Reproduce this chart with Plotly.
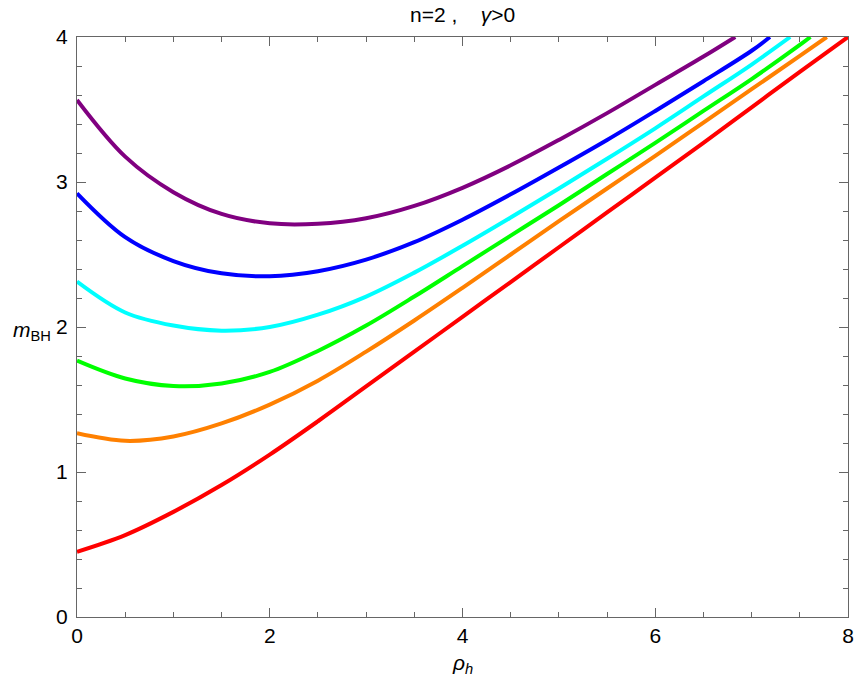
import plotly.graph_objects as go

# Data (rho_h, m_BH)
red_x = [0, 0.5, 1, 1.5, 2, 2.5, 3, 3.5, 4, 4.5, 5, 5.5, 6, 6.5, 7, 7.5, 8]
red_y = [0.45, 0.565, 0.725, 0.91, 1.12, 1.35, 1.59, 1.83, 2.07, 2.31, 2.55, 2.79, 3.03, 3.27, 3.515, 3.76, 4.0]

orange_x = [0, 0.5, 1, 1.5, 2, 2.5, 3, 3.5, 4, 4.5, 5, 5.5, 6, 6.5, 7, 7.5, 7.78]
orange_y = [1.267, 1.215, 1.245, 1.335, 1.465, 1.63, 1.83, 2.045, 2.27, 2.50, 2.73, 2.955, 3.18, 3.41, 3.64, 3.87, 4.0]

green_x = [0, 0.5, 1, 1.5, 2, 2.5, 3, 3.5, 4, 4.5, 5, 5.5, 6, 6.5, 7, 7.5, 7.61]
green_y = [1.768, 1.645, 1.593, 1.61, 1.69, 1.835, 2.01, 2.21, 2.42, 2.63, 2.84, 3.055, 3.27, 3.49, 3.71, 3.945, 4.0]

cyan_x = [0, 0.5, 1, 1.5, 2, 2.5, 3, 3.5, 4, 4.5, 5, 5.5, 6, 6.5, 7, 7.4]
cyan_y = [2.313, 2.10, 2.01, 1.975, 2.00, 2.085, 2.21, 2.375, 2.56, 2.755, 2.955, 3.16, 3.37, 3.59, 3.81, 4.0]

blue_x = [0, 0.5, 1, 1.5, 2, 2.5, 3, 3.5, 4, 4.5, 5, 5.5, 6, 6.5, 7, 7.19]
blue_y = [2.922, 2.62, 2.455, 2.37, 2.35, 2.385, 2.465, 2.585, 2.74, 2.915, 3.10, 3.29, 3.49, 3.695, 3.905, 4.0]

purple_x = [0, 0.5, 1, 1.5, 2, 2.5, 3, 3.5, 4, 4.5, 5, 5.5, 6, 6.5, 6.83]
purple_y = [3.566, 3.175, 2.93, 2.78, 2.715, 2.712, 2.75, 2.835, 2.96, 3.115, 3.29, 3.475, 3.67, 3.865, 4.0]

series = [
    (red_x, red_y, "#ff0000"),
    (orange_x, orange_y, "#ff8000"),
    (green_x, green_y, "#00ff00"),
    (cyan_x, cyan_y, "#00ffff"),
    (blue_x, blue_y, "#0000ff"),
    (purple_x, purple_y, "#800080"),
]

x_ticks = [0, 2, 4, 6, 8]
y_ticks = [0, 1, 2, 3, 4]

fig = go.Figure()
for xs, ys, c in series:
    fig.add_trace(go.Scatter(x=xs, y=ys, mode="lines",
                             line=dict(color=c, width=4, shape="spline", smoothing=1.0),
                             showlegend=False, hoverinfo="skip"))

font = dict(family="Liberation Sans, Arial, sans-serif", size=21, color="black")
axis_common = dict(showgrid=False, zeroline=False, showline=True, mirror="ticks",
                   linecolor="#666666", linewidth=1.2, ticks="inside", ticklen=9,
                   tickcolor="#666666", tickwidth=1.2, tickfont=font, automargin=False)

fig.update_layout(
    width=854, height=690,
    margin=dict(l=77, r=6, t=37, b=73),
    paper_bgcolor="white", plot_bgcolor="white",
    xaxis=dict(range=[0, 8], tickvals=x_ticks, ticktext=[str(v) for v in x_ticks],
               minor=dict(dtick=0.5, ticks="inside", ticklen=5, tickcolor="#666666", tickwidth=1.2),
               **axis_common),
    yaxis=dict(range=[0, 4], tickvals=y_ticks, ticktext=[str(v) for v in y_ticks],
               minor=dict(dtick=0.2, ticks="inside", ticklen=5, tickcolor="#666666", tickwidth=1.2),
               ticklabelstandoff=4, **axis_common),
    annotations=[
        dict(text="n=2 ,&nbsp;&nbsp;&nbsp;&nbsp;<i>γ</i>>0", x=0.5, y=1, xref="paper", yref="paper",
             xanchor="center", yanchor="bottom", yshift=9, showarrow=False, font=font),
        dict(text="<i>m</i><sub>BH</sub>", x=0, y=0.5, xref="paper", yref="paper",
             xanchor="right", yanchor="middle", xshift=-24, yshift=-4, showarrow=False, font=font),
        dict(text="<i>ρ</i><sub><i>h</i></sub>", x=0.5, y=0, xref="paper", yref="paper",
             xanchor="center", yanchor="top", yshift=-32, showarrow=False, font=font),
    ],
)

fig.write_html("out.html", config={"displayModeBar": False},
               post_script="document.body.style.margin='0';document.body.style.padding='0';")
